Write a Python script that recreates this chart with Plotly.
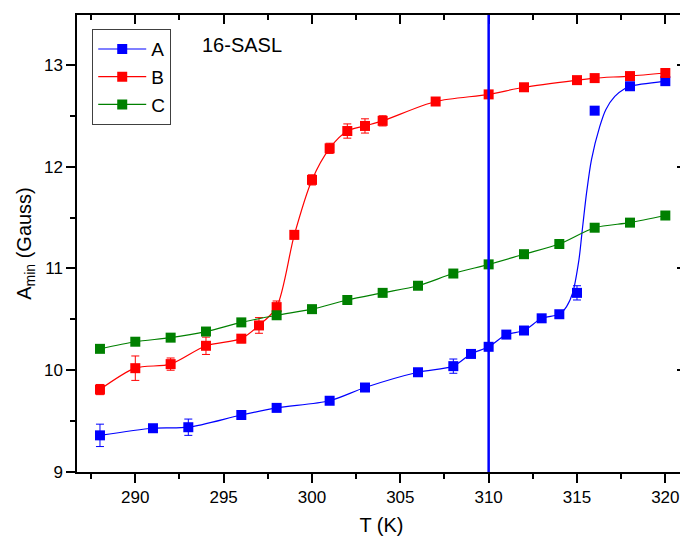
import plotly.graph_objects as go

# ---- data ----
T_A = [288, 291, 293, 296, 298, 301, 303, 306, 308, 309, 310, 311, 312, 313, 314, 315, 316, 318, 320]
A_val = [9.36, 9.43, 9.44, 9.56, 9.63, 9.70, 9.83, 9.98, 10.04, 10.16, 10.23, 10.35, 10.39, 10.51, 10.55, 10.76, 12.55, 12.79, 12.84]
A_err = [0.11, 0.03, 0.08, 0.03, 0.03, 0.03, 0.03, 0.03, 0.07, 0.03, 0.03, 0.03, 0.03, 0.03, 0.03, 0.07, 0.02, 0.02, 0.02]

# fitted (sigmoid) part of the A curve
A_fit_T = [314.41, 314.75, 315.11, 315.28, 315.54, 315.82, 316.29, 316.63, 317.14, 317.74, 318.0, 320.0]
A_fit_val = [10.625, 10.757, 11.085, 11.347, 11.74, 12.07, 12.395, 12.56, 12.69, 12.77, 12.79, 12.84]

T_B = [288, 290, 292, 294, 296, 297, 298, 299, 300, 301, 302, 303, 304, 307, 310, 312, 315, 316, 318, 320]
B_val = [9.81, 10.02, 10.06, 10.24, 10.31, 10.44, 10.62, 11.33, 11.87, 12.18, 12.35, 12.40, 12.45, 12.64, 12.71, 12.78, 12.85, 12.87, 12.89, 12.92]
B_err = [0.05, 0.12, 0.06, 0.085, 0.04, 0.077, 0.06, 0.04, 0.05, 0.05, 0.07, 0.07, 0.05, 0.03, 0.03, 0.03, 0.03, 0.03, 0.03, 0.03]

T_C = [288, 290, 292, 294, 296, 298, 300, 302, 304, 306, 308, 310, 312, 314, 316, 318, 320]
C_val = [10.21, 10.28, 10.32, 10.38, 10.47, 10.54, 10.60, 10.69, 10.76, 10.83, 10.95, 11.04, 11.14, 11.24, 11.40, 11.45, 11.52]
C_err = [0.03] * len(T_C)

T_ref = 310
x_range = [286.7, 321.17]
y_range = [9, 13.49]

BLUE, RED, GREEN = "#0000FF", "#FF0000", "#008000"
FONT = "Arial, Liberation Sans, sans-serif"

fig = go.Figure()

# A line: data points up to 314 then the fitted sigmoid
A_line_T = [t for t in T_A if t <= 314] + A_fit_T
A_line_v = [v for t, v in zip(T_A, A_val) if t <= 314] + A_fit_val
fig.add_trace(go.Scatter(x=A_line_T, y=A_line_v, mode="lines",
                         line=dict(color=BLUE, width=1.2, shape="spline", smoothing=0.8),
                         showlegend=False, hoverinfo="skip"))

mk = dict(symbol="square", size=10)
eb = dict(type="data", thickness=1, width=4)

fig.add_trace(go.Scatter(x=T_A, y=A_val, mode="markers", name="A",
                         marker=dict(color=BLUE, **mk),
                         error_y=dict(array=A_err, color=BLUE, **eb),
                         showlegend=False))
fig.add_trace(go.Scatter(x=[None], y=[None], mode="lines+markers", name="A",
                         line=dict(color=BLUE, width=1.2), marker=dict(color=BLUE, **mk)))
fig.add_trace(go.Scatter(x=T_B, y=B_val, mode="lines+markers", name="B",
                         line=dict(color=RED, width=1.2, shape="spline", smoothing=0.8),
                         marker=dict(color=RED, **mk),
                         error_y=dict(array=B_err, color=RED, **eb)))
fig.add_trace(go.Scatter(x=T_C, y=C_val, mode="lines+markers", name="C",
                         line=dict(color=GREEN, width=1.2, shape="spline", smoothing=0.8),
                         marker=dict(color=GREEN, **mk),
                         error_y=dict(array=C_err, color=GREEN, **eb)))
# dummy trace for mirrored inner ticks
fig.add_trace(go.Scatter(x=[None], y=[None], xaxis="x2", yaxis="y2",
                         showlegend=False, hoverinfo="skip"))

fig.add_shape(type="line", x0=T_ref, x1=T_ref, y0=0, y1=1, xref="x", yref="paper",
              line=dict(color=BLUE, width=2.5))

fig.add_annotation(text="16-SASL", x=0.2017, y=0.934, xref="paper", yref="paper",
                   xanchor="left", yanchor="middle", showarrow=False,
                   font=dict(size=20, color="black", family=FONT))

common = dict(showgrid=False, zeroline=False, tickwidth=1.5, tickcolor="black")
# page body adds an 8px margin, so the figure is 8px smaller and margins shifted
fig.update_layout(
    width=680, height=528,
    margin=dict(l=69, r=0, t=7, b=64),
    plot_bgcolor="white", paper_bgcolor="white",
    font=dict(family=FONT, color="black"),
    legend=dict(x=0.025, y=0.969, xanchor="left", yanchor="top",
                bordercolor="#404040", borderwidth=1, bgcolor="white",
                font=dict(size=19), tracegroupgap=0, itemwidth=48),
    xaxis=dict(range=x_range, tick0=290, dtick=5, ticks="outside", ticklen=9,
               minor=dict(ticks="outside", ticklen=5, tick0=290, dtick=2.5, tickwidth=1.5, tickcolor="black"),
               showline=True, linewidth=1.5, linecolor="black", mirror=True,
               tickfont=dict(size=17), title=dict(text="T (K)", font=dict(size=20), standoff=15),
               **common),
    yaxis=dict(range=y_range, tick0=9, dtick=1, ticks="outside", ticklen=9,
               minor=dict(ticks="outside", ticklen=5, tick0=9, dtick=0.5, tickwidth=1.5, tickcolor="black"),
               showline=True, linewidth=1.5, linecolor="black", mirror=True,
               tickfont=dict(size=17), title=dict(text="A<sub>min</sub> (Gauss)", font=dict(size=20), standoff=7),
               **common),
    xaxis2=dict(range=x_range, overlaying="x", side="top", anchor="y", tick0=290, dtick=5,
                ticks="inside", ticklen=9, showticklabels=False, showline=False,
                minor=dict(ticks="inside", ticklen=5, tick0=290, dtick=2.5, tickwidth=1.5, tickcolor="black"),
                **common),
    yaxis2=dict(range=y_range, overlaying="y", side="right", anchor="x", tick0=9, dtick=1,
                ticks="inside", ticklen=9, showticklabels=False, showline=False,
                minor=dict(ticks="inside", ticklen=5, tick0=9, dtick=0.5, tickwidth=1.5, tickcolor="black"),
                **common),
)

fig.write_html("out.html")
